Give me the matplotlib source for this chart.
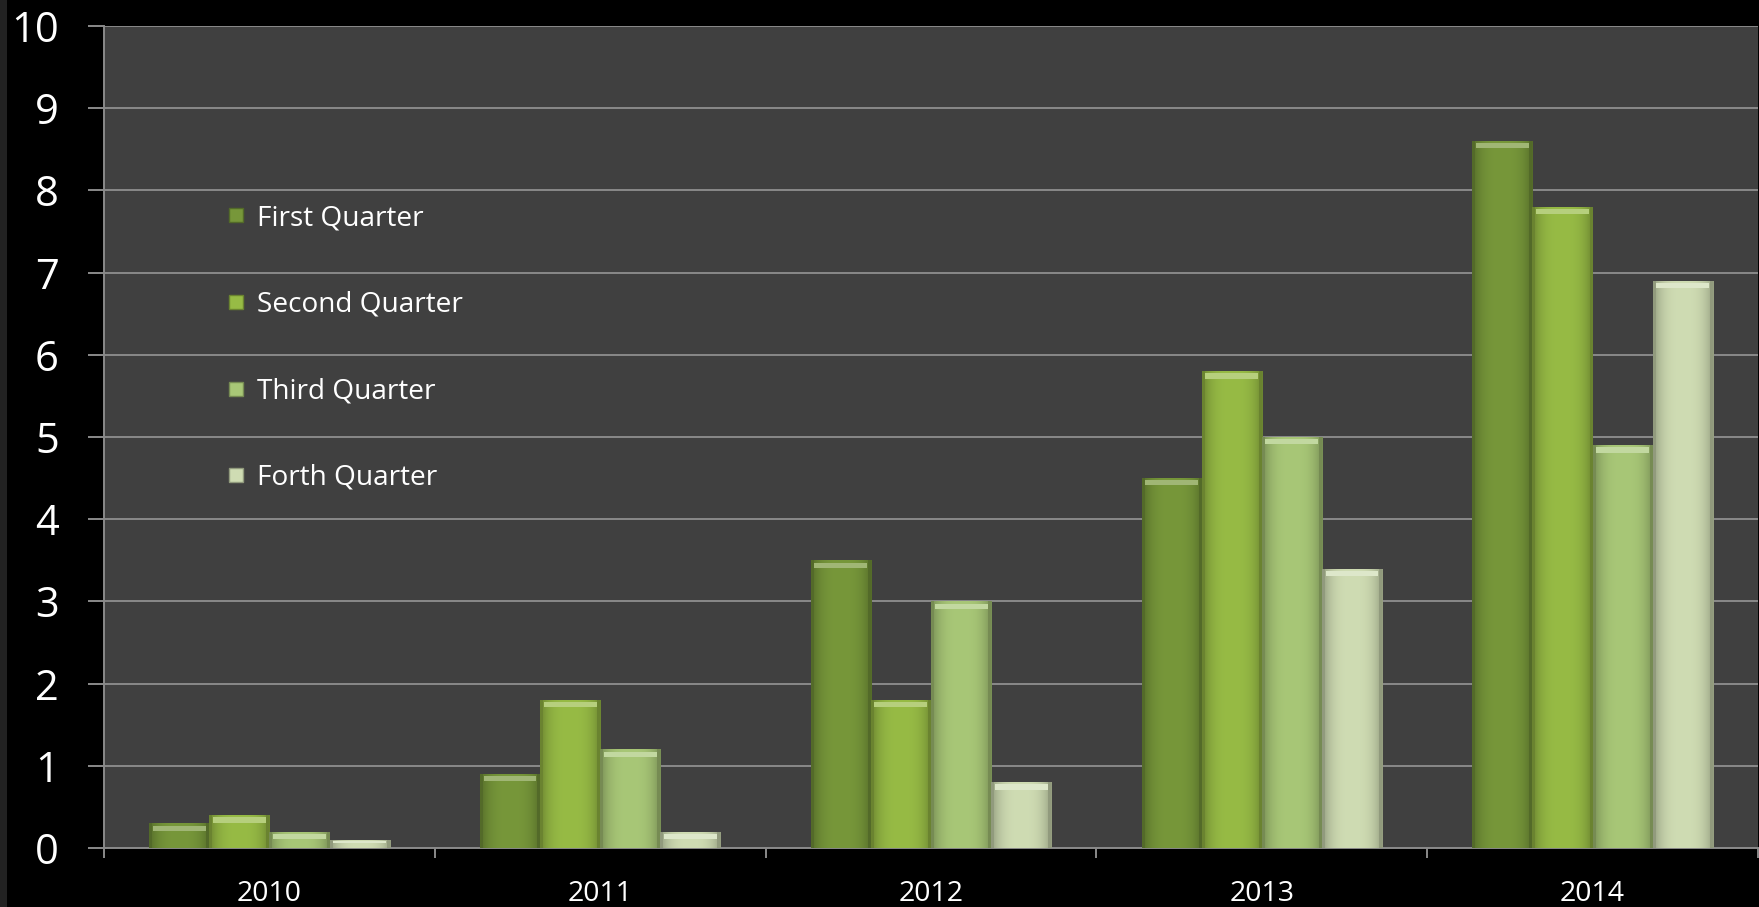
import numpy as np
import matplotlib
matplotlib.use("Agg")
import matplotlib.pyplot as plt
from matplotlib.patches import Rectangle
from matplotlib.colors import to_rgb
from matplotlib.lines import Line2D

years = ["2010", "2011", "2012", "2013", "2014"]
series_names = ["First Quarter", "Second Quarter", "Third Quarter", "Forth Quarter"]
q1 = [0.3, 0.9, 3.5, 4.5, 8.6]
q2 = [0.4, 1.8, 1.8, 5.8, 7.8]
q3 = [0.2, 1.2, 3.0, 5.0, 4.9]
q4 = [0.1, 0.2, 0.8, 3.4, 6.9]
series = [q1, q2, q3, q4]
colors = ["#77973a", "#97bb45", "#a8c777", "#cfdcb3"]
y_ticks = list(range(0, 11))

plt.rcParams['font.family'] = ['Open Sans', 'DejaVu Sans']

fig = plt.figure(figsize=(17.59, 9.07), dpi=100, facecolor="black")
fig.patches.append(Rectangle((0, 0), 7 / 1759, 1, transform=fig.transFigure,
                             facecolor="#222222", edgecolor="none"))
ax = fig.add_axes([104 / 1759, 59 / 907, 1654 / 1759, 822 / 907])
ax.set_facecolor("#404040")

n = len(years)
x = np.arange(n)
bw = 0.727 / 4

def shade(c, f):
    r = np.array(to_rgb(c))
    if f < 1:
        return tuple(r * f)
    return tuple(r + (1 - r) * (f - 1))

for i, (vals, col) in enumerate(zip(series, colors)):
    offs = x - 0.727 / 2 + bw * (i + 0.5)
    bars = ax.bar(offs, vals, width=bw, color=col, edgecolor="none", zorder=3,
                  label=series_names[i])
    grad = np.linspace(0, 1, 60)
    prof = 1 - 0.28 * (np.abs(grad - 0.5) * 2) ** 3
    base = np.array(to_rgb(col))
    img = np.clip(base[None, None, :] * prof[None, :, None], 0, 1)
    for b in bars:
        x0, w, h = b.get_x(), b.get_width(), b.get_height()
        im = ax.imshow(img, extent=(x0, x0 + w, 0, h), aspect="auto", zorder=3.1,
                       interpolation="bilinear")
        im.set_clip_path(b)
        cap = min(0.09, h * 0.45)
        ax.add_patch(Rectangle((x0 + w * 0.06, h - cap), w * 0.88, cap * 0.7,
                               facecolor=shade(col, 1.3), edgecolor="none", zorder=3.2))
        ax.add_patch(Rectangle((x0, 0), w * 0.05, h, facecolor=shade(col, 0.7),
                               edgecolor="none", zorder=3.2))
        ax.add_patch(Rectangle((x0 + w * 0.95, 0), w * 0.05, h, facecolor=shade(col, 0.7),
                               edgecolor="none", zorder=3.2))

ax.set_xlim(-0.5, n - 0.5)
ax.set_ylim(0, 10)
ax.set_yticks(y_ticks)
ax.set_yticklabels([str(t) for t in y_ticks])
ax.yaxis.grid(True, color="#8a8a8a", linewidth=1.4, zorder=1)
ax.set_axisbelow(True)

ax.set_xticks(x)
ax.set_xticklabels(years)
ax.set_xticks(np.arange(-0.5, n, 1.0), minor=True)
ax.tick_params(axis="x", which="major", length=0, pad=23, labelsize=20.5, colors="white")
ax.tick_params(axis="x", which="minor", length=7, width=1.4, color="#8a8a8a", direction="out")
ax.tick_params(axis="y", length=11.5, width=1.4, color="#8a8a8a", pad=21, labelsize=30,
               labelcolor="white", direction="out")

for s in ["top", "right"]:
    ax.spines[s].set_visible(False)
for s in ["left", "bottom"]:
    ax.spines[s].set_color("#8a8a8a")
    ax.spines[s].set_linewidth(1.4)

leg_handles = [Line2D([], [], marker="s", linestyle="none", markersize=10,
                      markerfacecolor=c, markeredgecolor=shade(c, 0.7), markeredgewidth=1)
               for c in colors]
leg = ax.legend(leg_handles, series_names, loc="upper left",
                bbox_to_anchor=(0.068, 0.797), frameon=False, fontsize=20.2,
                labelcolor="white", handlelength=0.6, handletextpad=0.45,
                labelspacing=2.09, borderaxespad=0)

fig.savefig("out.png", dpi=100, facecolor="black")
